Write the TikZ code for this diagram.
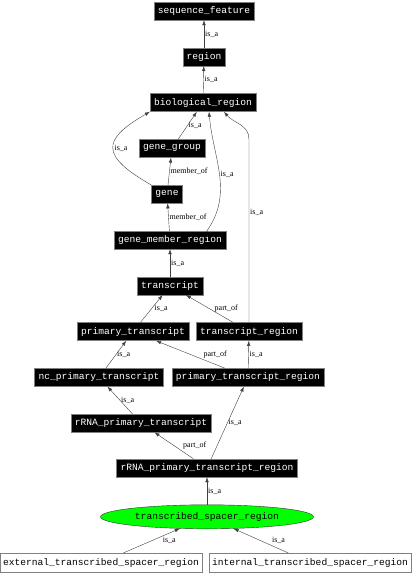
\documentclass[tikz,border=0pt]{standalone}
\usepackage{fontspec}
\newfontfamily\boxfont{Liberation Mono}
\newfontfamily\lblfont{Liberation Serif}
\usetikzlibrary{positioning, arrows.meta, shapes.geometric}
\tikzset{->,  % every link points up to the parent term
>={Latex[length=5pt,width=3.5pt]}, % small filled heads
node distance=45.8pt, % centre to centre gap between two rows
term/.style={draw=gray, fill=black, text=white, font=\boxfont\fontsize{9.6}{10}\selectfont, minimum height=18pt, inner xsep=4pt, inner ysep=0pt},
leaf/.style={draw=gray, fill=white, text=black, font=\boxfont\fontsize{9.6}{10}\selectfont, minimum height=19pt, inner xsep=3pt, inner ysep=0pt},
focus/.style={ellipse, draw=black!80, fill=green, text=black, font=\boxfont\fontsize{9.6}{10}\selectfont, minimum width=213pt, minimum height=24pt, inner sep=0pt},
lbl/.style={font=\lblfont\fontsize{8}{9}\selectfont, inner sep=1pt, text=black},
every edge/.append style={black!75},
}

\begin{document}
\begin{tikzpicture}
  \useasboundingbox (0,0) rectangle (414pt,-576pt);

  \node[term] (sf) at (204pt,-11pt) {sequence\_feature};
  \node[term, below of=sf] (reg) {region};
  \node[term, below of=reg, xshift=-1pt] (bio) {biological\_region};
  \node[term, below of=bio, xshift=-31pt] (gg) {gene\_group};
  \node[term, below of=gg, xshift=-5pt] (gene) {gene};
  \node[term, below of=gene, xshift=3pt] (gmr) {gene\_member\_region};
  \node[term, below of=gmr] (tr) {transcript};
  \node[term, below of=tr, xshift=-37pt] (pt) {primary\_transcript};
  \node[term, below of=tr, xshift=79pt] (trr) {transcript\_region};
  \node[term, below of=pt, xshift=-34pt] (ncpt) {nc\_primary\_transcript};
  \node[term, below of=trr, xshift=-1pt] (ptr) {primary\_transcript\_region};
  \node[term, below of=ncpt, xshift=42pt] (rpt) {rRNA\_primary\_transcript};
  \node[term, below of=rpt, xshift=66pt, yshift=1pt] (rptr) {rRNA\_primary\_transcript\_region};
  \node[focus, below of=rptr, yshift=-3pt] (tsr) {transcribed\_spacer\_region};
  \node[leaf, below of=tsr, xshift=-106pt] (ets) {external\_transcribed\_spacer\_region};
  \node[leaf, below of=tsr, xshift=103pt] (its) {internal\_transcribed\_spacer\_region};

  \draw (reg) edge node[lbl, right]{is\_a} (sf)
        (bio) edge node[lbl, right]{is\_a} (reg)
        (gg) edge node[lbl, right]{is\_a} (bio)
        (gene.north west) edge[out=150, in=210, looseness=2] node[lbl, right]{is\_a} (bio.south west)
        (gene) edge node[lbl, right]{member\_of} (gg)
        (gmr) edge node[lbl, right]{member\_of} (gene)
        ([xshift=37pt]gmr.north) edge[out=55, in=-85] node[lbl, right]{is\_a} ([xshift=6pt]bio.south)
        (tr) edge node[lbl, right]{is\_a} (gmr)
        (pt) edge node[lbl, right, xshift=2pt]{is\_a} (tr)
        (trr) edge node[lbl, right, xshift=4pt]{part\_of} (tr)
        (ncpt) edge node[lbl, right]{is\_a} (pt)
        (ptr) edge node[lbl, right, xshift=12pt]{part\_of} (pt)
        (ptr) edge node[lbl, right]{is\_a} (trr)
        (rpt) edge node[lbl, right]{is\_a} (ncpt)
        (rptr) edge node[lbl, right, xshift=8pt]{part\_of} (rpt)
        (rptr) edge node[lbl, right]{is\_a} (ptr)
        (tsr) edge node[lbl, right]{is\_a} (rptr)
        (ets) edge node[lbl, right, xshift=10pt]{is\_a} (tsr)
        (its) edge node[lbl, right, xshift=10pt]{is\_a} (tsr);
  \draw[black!75] (trr.north) -- node[lbl, right, pos=0.6]{is\_a} (trr.north |- gg.north)
        to[out=90, in=-50] ([xshift=21pt]bio.south);

\end{tikzpicture}
\end{document}
